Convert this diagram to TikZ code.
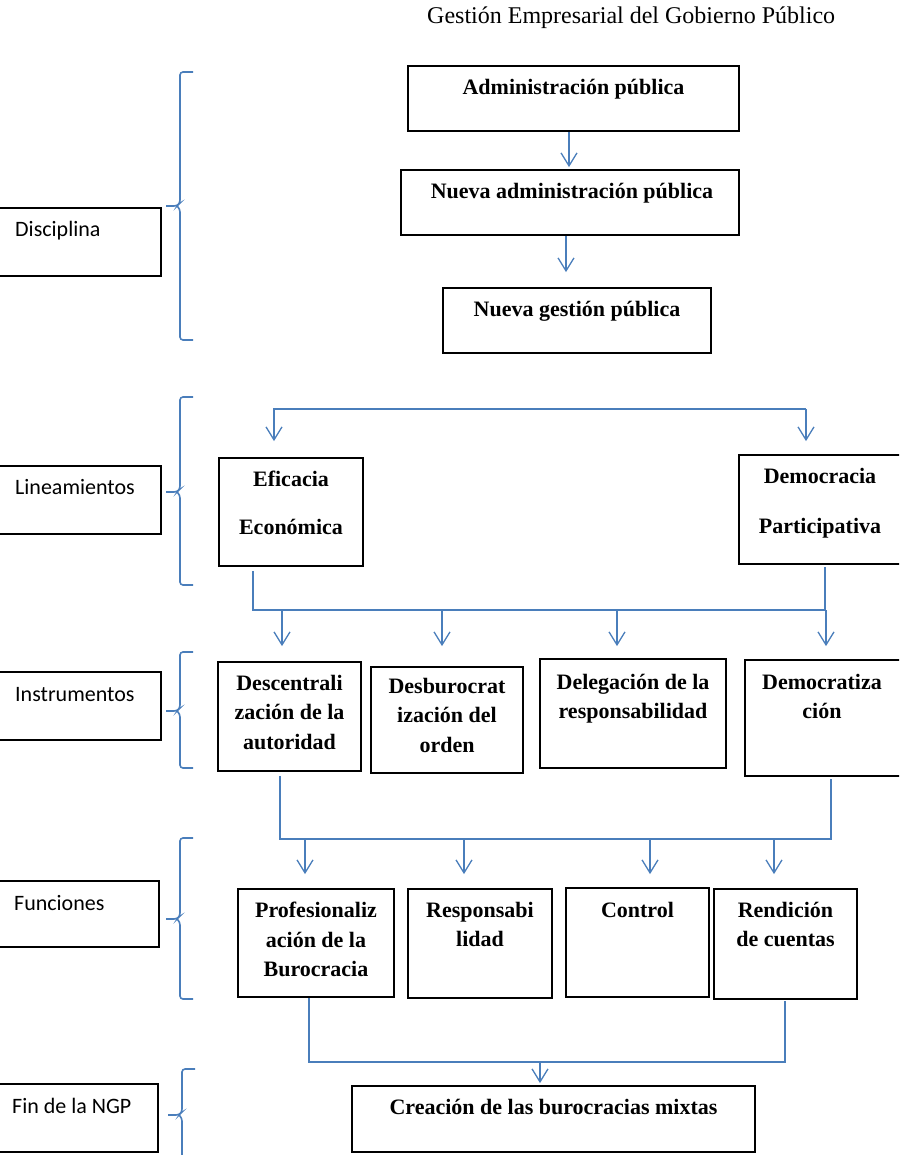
\documentclass[tikz,border=0pt]{standalone}
\usepackage{fontspec}
\setmainfont{Liberation Serif}
\newfontfamily\calfont{Carlito}
\usetikzlibrary{arrows.meta}
\definecolor{bl}{RGB}{74,126,187}
\newcommand\mybrace[4]{%
  \draw[brc] (#1+13,#2) -- (#1,#2) -- (#1,#3-3) -- (#1-3,#3) -- (#1-14,#3);
  \draw[brc] (#1+13,#4) -- (#1,#4) -- (#1,#3+3) -- (#1-3,#3);}
\begin{document}
\begin{tikzpicture}[x=1pt,y=-1pt,
  box/.style={draw=black, line width=1.8pt, inner sep=0pt},
  btxt/.style={font=\fontsize{22}{29.5}\selectfont\bfseries, align=center, inner sep=0pt, anchor=north},
  ltxt/.style={font=\calfont\fontsize{22}{26}\selectfont, inner sep=0pt, anchor=base west},
  htxt/.style={font=\fontsize{24}{28}\selectfont, inner sep=0pt, anchor=base west},
  conn/.style={draw=bl, line width=1.6pt},
  arr/.style={conn, -{Straight Barb[length=13pt,width=16pt,line width=1.3pt]}},
  brc/.style={draw=bl, line width=1.6pt, rounded corners=3pt}
]
\useasboundingbox (0,0) rectangle (899,1155);
\clip (0,0) rectangle (899,1155);

% header
\node[htxt] (head) at (427,24) {Gestión Empresarial del Gobierno Público};

% left labels
\node[box, minimum width=164pt, minimum height=68pt] (disc) at (79,242) {};
\node[ltxt] (disc-t) at (15,236.5) {Disciplina};
\node[box, minimum width=164pt, minimum height=68pt] (line) at (79,500) {};
\node[ltxt] (line-t) at (15,494.5) {Lineamientos};
\node[box, minimum width=164pt, minimum height=68pt] (inst) at (79,706) {};
\node[ltxt] (inst-t) at (15,701) {Instrumentos};
\node[box, minimum width=162pt, minimum height=66pt] (func) at (78,914) {};
\node[ltxt] (func-t) at (14,910) {Funciones};
\node[box, minimum width=161pt, minimum height=68pt] (fin) at (77.5,1118) {};
\node[ltxt] (fin-t) at (12,1113) {Fin de la NGP};

% braces
\mybrace{180}{72}{206}{340}
\mybrace{180}{397}{492}{585}
\mybrace{180}{652}{711}{768}
\mybrace{180}{838}{919}{999}
\mybrace{182}{1069}{1115}{1161}

% Disciplina boxes
\node[box, minimum width=331pt, minimum height=65pt] (admin) at (573.5,98.5) {};
\node[btxt] (admin-t) at (573.5,79) {Administración pública};
\node[box, minimum width=338pt, minimum height=65pt] (nadmin) at (570,202.5) {};
\node[btxt] (nadmin-t) at (572,183) {Nueva administración pública};
\node[box, minimum width=268pt, minimum height=65pt] (ngp) at (577,320.5) {};
\node[btxt] (ngp-t) at (577,301) {Nueva gestión pública};

\coordinate (x1) at (569,0);
\coordinate (x2) at (566,0);
\draw[arr, shorten >=2pt] (admin.south -| x1) -- (nadmin.north -| x1);
\draw[arr, shorten >=15pt] (nadmin.south -| x2) -- (ngp.north -| x2);

% Lineamientos
\node[box, minimum width=144pt, minimum height=108pt] (efic) at (291,512) {};
\node[btxt] (efic-t) at (291,471) {Eficacia\\[18.5pt]Económica};
\node[box, minimum width=162pt, minimum height=109pt] (demo) at (820,509.5) {};
\node[btxt] (demo-t) at (820,468) {Democracia\\[20.5pt]Participativa};

\coordinate (L1) at (274,409);
\coordinate (L2) at (806,409);
\draw[arr, shorten >=16pt] (L2) -- (L1) -- (L1 |- efic.north);
\draw[arr, shorten >=13pt] (L2) -- (L2 |- demo.north);

\coordinate (M1) at (253,610);
\coordinate (M2) at (825,610);
\draw[conn, shorten <=4pt, shorten >=2pt] (efic.south -| M1) -- (M1) -- (M2) -- (demo.south -| M2);

% Instrumentos
\node[box, minimum width=143pt, minimum height=109pt] (desc) at (289.5,716.5) {};
\node[btxt] (desc-t) at (289.5,675) {Descentrali\\zación de la\\autoridad};
\node[box, minimum width=152pt, minimum height=106pt] (desb) at (447,720) {};
\node[btxt] (desb-t) at (447,678) {Desburocrat\\ización del\\orden};
\node[box, minimum width=186pt, minimum height=109pt] (dele) at (633,713.5) {};
\node[btxt] (dele-t) at (633,674) {Delegación de la\\responsabilidad};
\node[box, minimum width=156pt, minimum height=116pt] (democ) at (823,718) {};
\node[btxt] (democ-t) at (822,674) {Democratiza\\ción};

\foreach \xx/\nn/\ss in {282/desc/15pt, 442/desb/20pt, 617/dele/12pt, 826/democ/13pt}{
  \coordinate (m) at (\xx,610);
  \draw[arr, shorten >=\ss] (m) -- (m |- \nn.north);
}

\coordinate (F1) at (280,839);
\coordinate (F2) at (831,839);
\draw[conn, shorten <=4pt, shorten >=2pt] (desc.south -| F1) -- (F1) -- (F2) -- (democ.south -| F2);

% Funciones
\node[box, minimum width=156pt, minimum height=108pt] (prof) at (316,943) {};
\node[btxt] (prof-t) at (316,902) {Profesionaliz\\ación de la\\Burocracia};
\node[box, minimum width=144pt, minimum height=109pt] (resp) at (480,943.5) {};
\node[btxt] (resp-t) at (480,902) {Responsabi\\lidad};
\node[box, minimum width=143pt, minimum height=109pt] (ctrl) at (637.5,942.5) {};
\node[btxt] (ctrl-t) at (637.5,902) {Control};
\node[box, minimum width=143pt, minimum height=110pt] (rend) at (785.5,944) {};
\node[btxt] (rend-t) at (785.5,902) {Rendición\\de cuentas};

\foreach \xx/\nn/\ss in {305/prof/14pt, 464/resp/14pt, 650/ctrl/13pt, 774/rend/14pt}{
  \coordinate (f) at (\xx,839);
  \draw[arr, shorten >=\ss] (f) -- (f |- \nn.north);
}

\coordinate (G1) at (309,1062);
\coordinate (G2) at (785,1062);
\draw[conn, shorten >=1pt] (prof.south -| G1) -- (G1) -- (G2) -- (rend.south -| G2);

% Fin
\node[box, minimum width=403pt, minimum height=66pt] (crea) at (553.5,1119) {};
\node[btxt] (crea-t) at (553.5,1099) {Creación de las burocracias mixtas};
\coordinate (g) at (540,1062);
\draw[arr, shorten >=2pt] (g) -- (g |- crea.north);
\end{tikzpicture}
\end{document}
